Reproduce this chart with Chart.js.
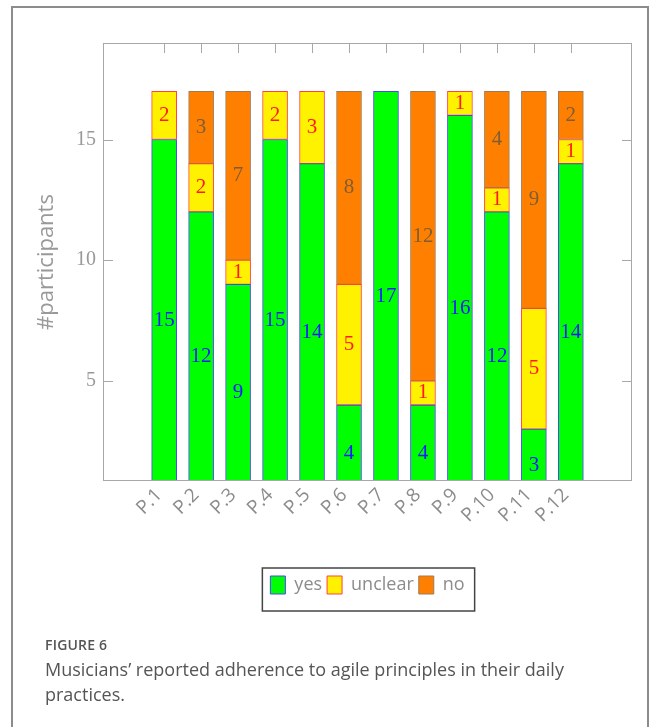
<!DOCTYPE html>
<html lang="en">
<head>
<meta charset="UTF-8">
<title>Figure 6</title>
<script src="https://cdn.jsdelivr.net/npm/chart.js"></script>
<style>
  body { margin: 0; background: #fff; width: 656px; height: 727px; overflow: hidden; position: relative; }
  .frame { position: absolute; left: 11px; top: 6px; width: 638px; height: 800px; border: 2px solid #8c8c8c; box-sizing: border-box; }
  .wrap { position: absolute; left: 0; top: 0; width: 656px; height: 640px; }
  .caption { position: absolute; left: 45px; top: 635px; font-family: "Open Sans", sans-serif; color: #555; }
  .caption .fig { font-size: 14px; font-weight: 600; letter-spacing: 0.2px; }
  .caption .txt { font-size: 18px; line-height: 25px; margin-top: 3px; }
</style>
</head>
<body>
<div class="frame"></div>
<div class="wrap"><canvas id="grafico"></canvas></div>
<div class="caption">
  <div class="fig">FIGURE 6</div>
  <div class="txt">Musicians’ reported adherence to agile principles in their daily<br>practices.</div>
</div>
<script>
// dados
const categorias = ["P.1", "P.2", "P.3", "P.4", "P.5", "P.6", "P.7", "P.8", "P.9", "P.10", "P.11", "P.12"];
const sim = [15, 12, 9, 15, 14, 4, 17, 4, 16, 12, 3, 14];
const incerto = [2, 2, 1, 2, 3, 5, 0, 1, 1, 1, 5, 1];
const nao = [0, 3, 7, 0, 0, 8, 0, 12, 0, 4, 9, 2];
const ticksY = [5, 10, 15];

const cinza = '#a8a8a8';

function serie(valores) {
    return valores.map((v, i) => ({ x: i + 1, y: v === 0 ? null : v }));
}

// moldura do gráfico + ticks para dentro
const moldura = {
    id: 'moldura',
    afterDatasetsDraw(chart) {
        const { ctx, chartArea: a, scales: { x, y } } = chart;
        ctx.save();
        ctx.strokeStyle = cinza;
        ctx.lineWidth = 1;
        ctx.strokeRect(a.left + 0.5, a.top + 0.5, a.right - a.left - 1, a.bottom - a.top - 1);
        ctx.beginPath();
        categorias.forEach((c, i) => {
            const px = Math.round(x.getPixelForValue(i + 1)) + 0.5;
            ctx.moveTo(px, a.top);
            ctx.lineTo(px, a.top + 10);
        });
        ticksY.forEach(v => {
            const py = Math.round(y.getPixelForValue(v)) + 0.5;
            ctx.moveTo(a.left, py);
            ctx.lineTo(a.left + 10, py);
            ctx.moveTo(a.right, py);
            ctx.lineTo(a.right - 10, py);
        });
        ctx.stroke();
        ctx.restore();
    }
};

// números no meio de cada pedaço da barra
const rotulos = {
    id: 'rotulos',
    afterDatasetsDraw(chart) {
        const { ctx, scales: { x, y } } = chart;
        const listas = [sim, incerto, nao];
        const cores = ['#1a1aff', '#ff1a1a', '#7f5d35'];
        ctx.save();
        ctx.font = '21px "Liberation Serif", "DejaVu Serif", serif';
        ctx.textAlign = 'center';
        ctx.textBaseline = 'middle';
        listas.forEach((lista, d) => {
            ctx.fillStyle = cores[d];
            lista.forEach((v, i) => {
                if (!v) return;
                let base = 0;
                for (let k = 0; k < d; k++) base += listas[k][i];
                ctx.fillText(String(v), x.getPixelForValue(i + 1), y.getPixelForValue(base + v / 2));
            });
        });
        ctx.restore();
    }
};

// caixa em volta da legenda e altura fixa
const caixaLegenda = {
    id: 'caixaLegenda',
    beforeLayout(chart) {
        const leg = chart.legend;
        if (leg && !leg._ajustado) {
            const fit = leg.fit;
            leg.fit = function () {
                fit.call(this);
                this.height = 48;
            };
            leg._ajustado = true;
        }
    },
    afterDraw(chart) {
        const hb = chart.legend.legendHitBoxes;
        if (!hb || !hb.length) return;
        const { ctx } = chart;
        const primeiro = hb[0], ultimo = hb[hb.length - 1];
        const l = primeiro.left - 8, r = ultimo.left + ultimo.width + 10;
        const t = primeiro.top - 8, b = primeiro.top + primeiro.height + 17;
        ctx.save();
        ctx.strokeStyle = '#444';
        ctx.lineWidth = 1.5;
        ctx.strokeRect(l, t, r - l, b - t);
        ctx.restore();
    }
};

const config = {
    type: 'bar',
    data: {
        datasets: [
            { label: 'yes', data: serie(sim), backgroundColor: '#00ff00', borderColor: '#4646ff' },
            { label: 'unclear', data: serie(incerto), backgroundColor: '#fff200', borderColor: '#ff4040' },
            { label: 'no', data: serie(nao), backgroundColor: '#ff8000', borderColor: '#a07a55' }
        ]
    },
    options: {
        responsive: true,
        maintainAspectRatio: false,
        animation: false,
        datasets: {
            bar: { barThickness: 25, borderWidth: 1, borderSkipped: false }
        },
        layout: { padding: { left: 0, right: 24, top: 43, bottom: 21 } },
        scales: {
            x: {
                type: 'linear',
                stacked: true,
                offset: false,
                min: -0.654,
                max: 13.654,
                afterBuildTicks: s => { s.ticks = categorias.map((c, i) => ({ value: i + 1 })); },
                afterFit: s => { s.height = 90; },
                grid: { display: false, drawTicks: false },
                border: { display: false },
                ticks: {
                    autoSkip: false,
                    minRotation: 45,
                    maxRotation: 45,
                    padding: 3,
                    labelOffset: -5,
                    color: '#8c8c8c',
                    font: { family: '"Open Sans", sans-serif', size: 19 },
                    callback: v => categorias[v - 1]
                }
            },
            y: {
                stacked: true,
                min: 0.85,
                max: 19,
                afterBuildTicks: s => { s.ticks = ticksY.map(v => ({ value: v })); },
                afterFit: s => { s.width = 103; },
                grid: { display: false, drawTicks: false },
                border: { display: false },
                ticks: {
                    padding: 7,
                    color: '#999',
                    font: { family: '"Liberation Serif", serif', size: 20 }
                },
                title: {
                    display: true,
                    text: '#participants',
                    color: '#999',
                    font: { family: '"Open Sans", sans-serif', size: 22 },
                    padding: { top: 34, bottom: 0 }
                }
            }
        },
        plugins: {
            tooltip: { enabled: false },
            legend: {
                position: 'bottom',
                fullSize: false,
                labels: {
                    boxWidth: 15,
                    boxHeight: 18,
                    padding: 5,
                    color: '#8c8c8c',
                    font: { family: '"Open Sans", sans-serif', size: 18 }
                }
            }
        }
    },
    plugins: [moldura, rotulos, caixaLegenda]
};

let myChart = new Chart(document.getElementById('grafico'), config);
</script>
</body>
</html>
